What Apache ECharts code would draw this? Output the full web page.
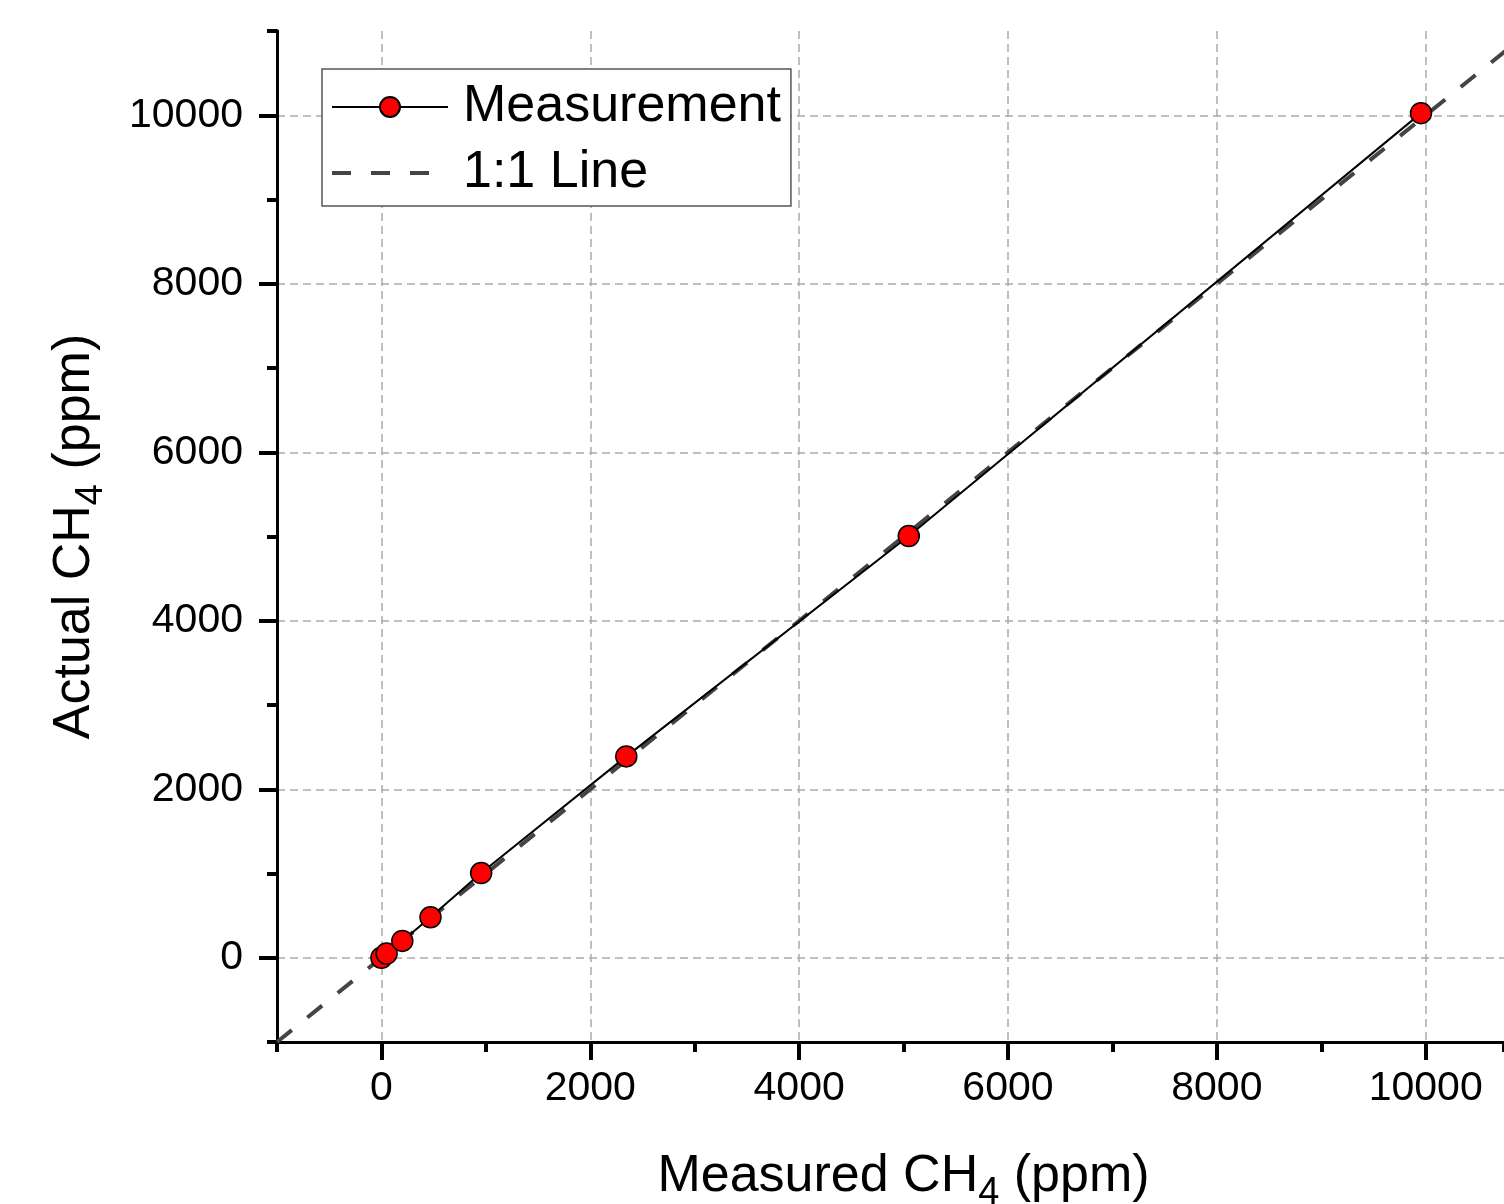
<!DOCTYPE html>
<html>
<head>
<meta charset="utf-8">
<script src="https://cdn.jsdelivr.net/npm/echarts@6/dist/echarts.min.js"></script>
<style>
  html, body { margin: 0; padding: 0; background: #fff; }
  #chart { width: 1504px; height: 1204px; }
</style>
</head>
<body>
<div id="chart"></div>
<script>
/************************    数据    ****************************/
var measuredX = [0, 50, 200, 470, 955, 2345, 5050, 9955];
var actualY = [0, 50, 200, 480, 1005, 2390, 5005, 10025];
var oneToOne = [-1000, 11000];
var majorTicks = [0, 2000, 4000, 6000, 8000, 10000];

var FONT = '"Liberation Sans", Arial, sans-serif';

var measurement = measuredX.map(function (x, i) { return [x, actualY[i]]; });
var lineData = oneToOne.map(function (v) { return [v, v]; });

var dashStyle = { color: '#444', width: 4, type: [19, 20] };

/************************    坐标轴    ****************************/
function mainAxis(name, min, max, gap, margin, namePad) {
    return {
        type: 'value',
        min: min,
        max: max,
        interval: 1000,
        name: name,
        nameLocation: 'middle',
        nameGap: gap,
        nameTextStyle: {
            fontFamily: FONT,
            color: '#000',
            padding: namePad,
            rich: {
                a: { fontFamily: FONT, fontSize: 52, color: '#000' },
                s: { fontFamily: FONT, fontSize: 38, color: '#000', padding: [34, 0, 0, 0] }
            }
        },
        axisLine: { show: true, onZero: false, lineStyle: { color: '#000', width: 3 } },
        axisTick: { show: true, length: 18, lineStyle: { color: '#000', width: 4 }, customValues: majorTicks },
        axisLabel: {
            fontFamily: FONT, fontSize: 41, color: '#000', margin: margin,
            customValues: majorTicks,
            formatter: function (v) { return String(v); }
        },
        splitLine: {
            show: true,
            lineStyle: { color: '#aaaaaa', width: 1.5, type: [8, 5] }
        }
    };
}
function minorAxis(min, max, pos) {
    return {
        type: 'value',
        min: min,
        max: max,
        interval: 1000,
        position: pos,
        axisLine: { show: true, onZero: false, lineStyle: { color: '#000', width: 3 } },
        axisTick: { show: true, length: 10, lineStyle: { color: '#000', width: 4 } },
        axisLabel: { show: false },
        splitLine: { show: false }
    };
}

var xMain = mainAxis('{a|Measured CH}{s|4}{a| (ppm)}', -1000, 10750, 99, 26, [0, 0, 0, 26]);
xMain.position = 'bottom';
var yMain = mainAxis('{a|Actual CH}{s|4}{a| (ppm)}', -1000, 11000, 166, 34, 0);
yMain.position = 'left';

var chart = echarts.init(document.getElementById('chart'));
chart.setOption({
    backgroundColor: '#fff',
    animation: false,
    grid: { left: 277, right: 0, top: 31, bottom: 162, containLabel: false, outerBoundsMode: 'none' },
    legend: {
        orient: 'vertical',
        left: 322,
        top: 69,
        data: [
            { name: 'Measurement' },
            { name: '1:1 Line', lineStyle: dashStyle, itemStyle: { opacity: 0 } }
        ],
        padding: [12, 10, 7, 8],
        itemGap: 14,
        itemWidth: 116,
        itemHeight: 25,
        backgroundColor: '#fff',
        borderColor: '#555',
        borderWidth: 1.5,
        borderRadius: 0,
        textStyle: { fontFamily: FONT, fontSize: 52, color: '#000', padding: [0, 0, 0, 10] }
    },
    xAxis: [xMain, minorAxis(-1000, 10750, 'bottom')],
    yAxis: [yMain, minorAxis(-1000, 11000, 'left')],
    series: [
        {
            name: '1:1 Line',
            type: 'line',
            data: lineData,
            showSymbol: false,
            symbol: 'none',
            itemStyle: { color: '#444', opacity: 0 },
            lineStyle: dashStyle,
            z: 2
        },
        {
            name: 'Measurement',
            type: 'line',
            data: measurement,
            symbol: 'circle',
            symbolSize: 21,
            lineStyle: { color: '#000', width: 2 },
            itemStyle: { color: '#ff0000', borderColor: '#000', borderWidth: 1.5 },
            z: 3
        }
    ]
});
</script>
</body>
</html>
